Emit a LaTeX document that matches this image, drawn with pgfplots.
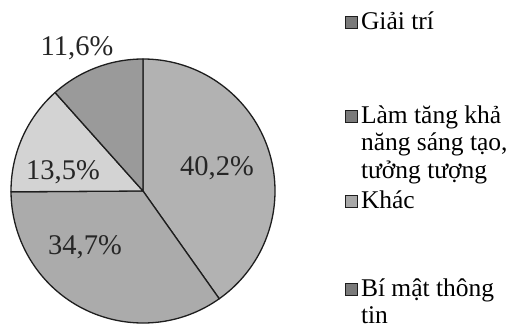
\documentclass[border=0pt]{standalone}
\usepackage{pgfplots}
\usepackage{pgfplotstable}
\pgfplotsset{compat=1.18}
\usepackage{fontspec}
\setmainfont{Liberation Serif}
\definecolor{sA}{HTML}{B2B2B2}
\definecolor{sB}{HTML}{ABABAB}
\definecolor{sC}{HTML}{D3D3D3}
\definecolor{sD}{HTML}{9A9A9A}
\definecolor{edge}{HTML}{1E1E1E}
\definecolor{lgdark}{HTML}{7A7A7A}
\definecolor{lglight}{HTML}{A8A8A8}
\newcommand\legfont{\fontsize{25.5bp}{27.5bp}\selectfont}
\newcommand\piefont{\fontsize{28.5bp}{30bp}\selectfont}
\pgfplotstableread{
value color
40.2 sA
34.7 sB
13.5 sC
11.6 sD
}\piedata
\begin{document}
\begin{tikzpicture}
\begin{axis}[
  x=1bp, y=1bp, scale only axis,
  xmin=0, xmax=509, ymin=0, ymax=329,
  hide axis, clip=false,
  legend image code/.code={\draw[#1, draw=edge, line width=1bp] (0bp,1bp) rectangle (12bp,13bp);},
  legend style={draw=none, fill=none, inner sep=0pt, outer sep=0pt,
    at={(axis cs:345,320)}, anchor=north west,
    row sep=0pt, column sep=3bp, font=\legfont,
    cells={anchor=base west},
    nodes={inner sep=0pt, text height=20bp, text depth=7bp}},
]
\gdef\cumang{90}
\pgfplotsinvokeforeach{0,1,2,3}{%
  \pgfplotstablegetelem{#1}{value}\of\piedata
  \pgfmathsetmacro\startang{\cumang}%
  \pgfmathsetmacro\endang{\cumang-3.6*\pgfplotsretval}%
  \pgfplotstablegetelem{#1}{color}\of\piedata
  \edef\temp{\noexpand\filldraw[fill=\pgfplotsretval, draw=edge, line width=1.3bp, line join=round]
    (axis cs:143,138) -- ++(\startang:132bp) arc[start angle=\startang, end angle=\endang, radius=132bp] -- cycle;}%
  \temp
  \xdef\cumang{\endang}%
}
\node[font=\piefont, text=black!85] at (axis cs:217,161) {40,2\%};
\node[font=\piefont, text=black!85] at (axis cs:85,82) {34,7\%};
\node[font=\piefont, text=black!85] at (axis cs:63,157) {13,5\%};
\node[font=\piefont, text=black!85] at (axis cs:77,281) {11,6\%};

\addlegendimage{fill=lgdark}
\addlegendentry[text depth=74bp]{Giải trí}
\addlegendimage{fill=lgdark}
\addlegendentry[text depth=65bp]{\vtop{\baselineskip=27.5bp\lineskiplimit=-20bp\hbox{Làm tăng khả}\hbox{năng sáng tạo,}\hbox{tưởng tượng}}}
\addlegendimage{fill=lglight}
\addlegendentry[text depth=68bp]{Khác}
\addlegendimage{fill=lgdark}
\addlegendentry[text depth=27.5bp]{\vtop{\baselineskip=27bp\lineskiplimit=-20bp\hbox{Bí mật thông}\hbox{tin}}}
\end{axis}
\pgfresetboundingbox
\path (0,0) rectangle (509bp,329bp);
\end{tikzpicture}
\end{document}
